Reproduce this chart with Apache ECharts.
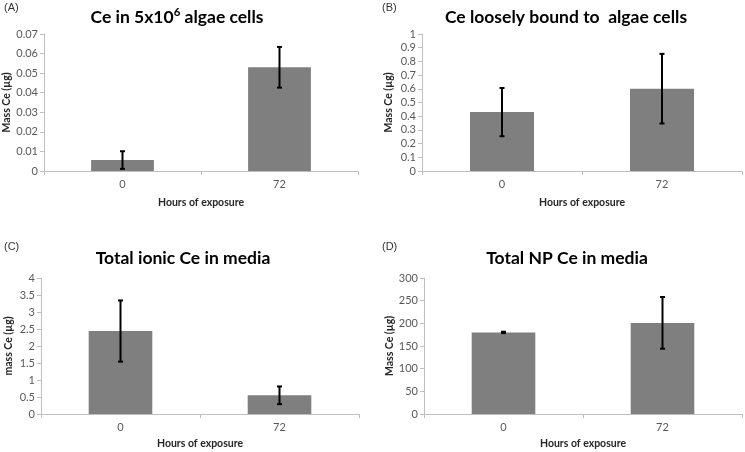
<!DOCTYPE html>
<html><head><meta charset="utf-8">
<script src="https://cdn.jsdelivr.net/npm/echarts@6/dist/echarts.min.js"></script>
<style>html,body{margin:0;padding:0;background:#fff}#c{width:745px;height:452px}</style>
</head><body><div id="c"></div>
<script>
const categories = ['0', '72'];
const massA = [0.0056, 0.0530];
const errA = [0.0045, 0.0104];
const massB = [0.430, 0.601];
const errB = [0.176, 0.254];
const massC = [2.44, 0.55];
const errC = [0.90, 0.26];
const massD = [180, 201];
const errD = [1.5, 57];
const panelLetters = ['(A)', '(B)', '(C)', '(D)'];
const yNames = ['Mass Ce (\u00b5g)', 'Mass Ce (\u00b5g)', 'mass Ce (\u00b5g)', 'Mass Ce (\u00b5g)'];
const yMax = [0.07, 1, 4, 300];
const yInterval = [0.01, 0.1, 0.5, 50];
const xName = 'Hours of exposure';

const values = [massA, massB, massC, massD];
const errs = [errA, errB, errC, errD];

const grids = [
  {left: 44, top: 34, width: 314, height: 137},
  {left: 422, top: 34, width: 320, height: 137},
  {left: 41, top: 278, width: 318, height: 136},
  {left: 424, top: 278, width: 318, height: 136}
];
const yNameGaps = [32, 28, 27, 29];
const xNameGaps = [26, 26, 24.5, 24.5];
const titlePos = [
  {x: 172, y: 12}, {x: 561, y: 12}, {x: 178, y: 253}, {x: 562, y: 253}
];
const letterPos = [[4, 2], [382, 2], [4, 241], [382, 241]];
const titleTexts = ['Ce in 5x10{sup|6} algae cells', 'Ce loosely bound to  algae cells', 'Total ionic Ce in media', 'Total NP Ce in media'];

const FONT = 'Lato, "Open Sans", sans-serif';
const axisColor = '#bfbfbf';
const labelColor = '#595959';

const xAxes = [], yAxes = [], series = [], titles = [], graphics = [];
for (let i = 0; i < 4; i++) {
  xAxes.push({
    type: 'category', gridIndex: i, data: categories,
    name: xName, nameLocation: 'middle', nameGap: xNameGaps[i],
    nameTextStyle: {fontFamily: FONT, fontWeight: 'bold', fontSize: 10.5, color: '#262626'},
    axisLine: {lineStyle: {color: axisColor, width: 1}},
    axisTick: {show: true, length: 4, lineStyle: {color: axisColor}},
    axisLabel: {fontFamily: FONT, fontSize: 11, color: labelColor, margin: 8},
    splitLine: {show: false}
  });
  yAxes.push({
    type: 'value', gridIndex: i, min: 0, max: yMax[i], interval: yInterval[i],
    name: yNames[i], nameLocation: 'middle', nameRotate: 90, nameGap: yNameGaps[i],
    nameTextStyle: {fontFamily: FONT, fontWeight: 'bold', fontSize: 10.5, color: '#262626'},
    axisLine: {show: true, lineStyle: {color: axisColor, width: 1}},
    axisTick: {show: true, length: 4, lineStyle: {color: axisColor}},
    axisLabel: {fontFamily: FONT, fontSize: 11, color: labelColor, margin: 6},
    splitLine: {show: false}
  });
  series.push({
    type: 'bar', xAxisIndex: i, yAxisIndex: i, data: values[i],
    barWidth: '40%', itemStyle: {color: '#7f7f7f'}, silent: true
  });
  const ebData = values[i].map((v, k) => [k, v - errs[i][k], v + errs[i][k]]);
  series.push({
    type: 'custom', xAxisIndex: i, yAxisIndex: i, data: ebData, silent: true,
    encode: {x: 0, y: [1, 2]}, z: 5,
    renderItem: function (params, api) {
      const x = api.value(0);
      const lo = api.coord([x, api.value(1)]);
      const hi = api.coord([x, api.value(2)]);
      const w = 2.5;
      const st = {stroke: '#000', lineWidth: 2};
      return {type: 'group', children: [
        {type: 'line', shape: {x1: lo[0], y1: lo[1], x2: hi[0], y2: hi[1]}, style: st},
        {type: 'line', shape: {x1: hi[0] - w, y1: hi[1], x2: hi[0] + w, y2: hi[1]}, style: st},
        {type: 'line', shape: {x1: lo[0] - w, y1: lo[1], x2: lo[0] + w, y2: lo[1]}, style: st}
      ]};
    }
  });
  titles.push({
    text: titleTexts[i], left: titlePos[i].x, top: titlePos[i].y, textAlign: 'center', textVerticalAlign: 'middle',
    textStyle: {fontFamily: FONT, fontWeight: 'bold', fontSize: 17.5, color: '#000', lineHeight: 21,
      rich: {sup: {fontFamily: FONT, fontWeight: 'bold', fontSize: 11.5, color: '#000', verticalAlign: 'top', lineHeight: 11}}}
  });
  graphics.push({
    type: 'text', left: letterPos[i][0], top: letterPos[i][1],
    style: {text: panelLetters[i], fontFamily: '"Liberation Sans", Arial, sans-serif', fontSize: 11, fill: '#333'}
  });
}

const chart = echarts.init(document.getElementById('c'), null, {renderer: 'canvas'});
chart.setOption({
  animation: false,
  backgroundColor: '#fff',
  title: titles,
  grid: grids,
  xAxis: xAxes,
  yAxis: yAxes,
  series: series,
  graphic: graphics
});
</script></body></html>
